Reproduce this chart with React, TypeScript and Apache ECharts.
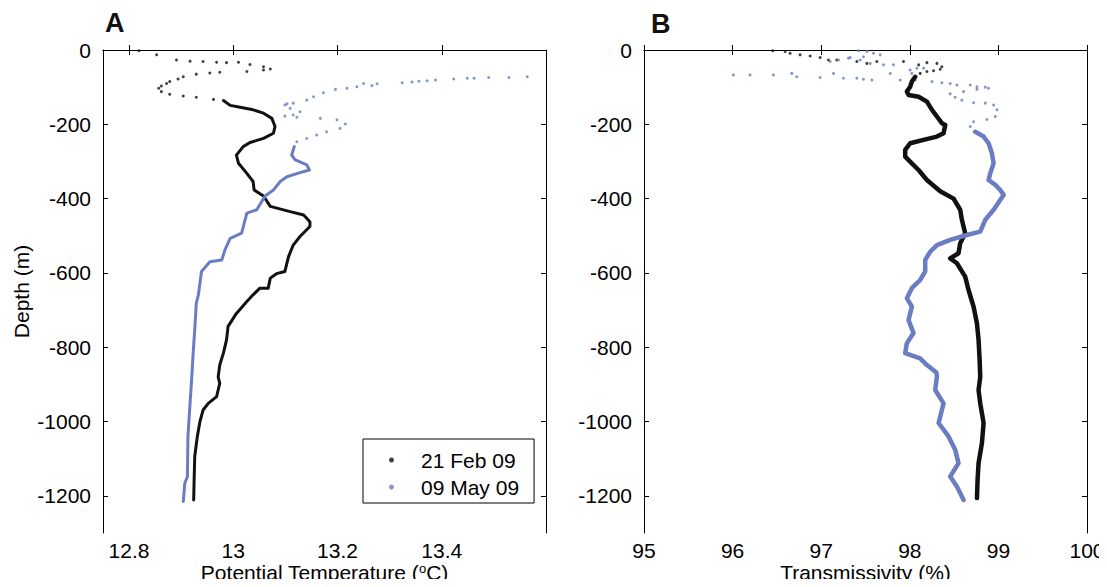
import React, { useEffect, useRef } from "react";
import * as echarts from "echarts";

// ---- tick values ----
const depthTicks = [0, -200, -400, -600, -800, -1000, -1200];
const tempTicks = [12.8, 13, 13.2, 13.4];
const transTicks = [95, 96, 97, 98, 99, 100];

// ---- Panel A: potential temperature [T, depth] ----
const febTempSparse: number[][] = [
  [12.819, -2], [12.853, -13], [12.891, -27], [12.917, -30], [12.942, -31], [12.968, -33],
  [12.987, -34], [13.01, -33], [13.032, -39], [13.058, -45], [13.071, -51], [13.058, -54],
  [13.026, -58], [12.974, -60], [12.955, -62], [12.929, -65], [12.904, -72], [12.894, -78],
  [12.878, -85], [12.872, -90], [12.862, -97], [12.857, -103], [12.862, -112], [12.878, -119],
  [12.904, -124], [12.929, -127], [12.962, -133],
];
const febTempDense: number[][] = [
  [12.981, -136], [12.994, -149], [13.013, -154], [13.038, -161], [13.058, -170], [13.074, -184],
  [13.08, -206], [13.077, -224], [13.058, -238], [13.032, -249], [13.019, -260], [13.006, -283],
  [13.01, -305], [13.026, -332], [13.038, -354], [13.04, -377], [13.058, -393], [13.071, -421],
  [13.109, -435], [13.135, -444], [13.147, -462], [13.147, -475], [13.128, -502], [13.115, -525],
  [13.106, -556], [13.099, -596], [13.083, -602], [13.071, -614], [13.067, -641], [13.051, -641],
  [13.038, -659], [13.026, -677], [13.006, -709], [12.99, -744], [12.987, -780], [12.981, -816],
  [12.974, -848], [12.971, -880], [12.974, -897], [12.968, -933], [12.952, -951], [12.942, -969],
  [12.936, -1000], [12.931, -1040], [12.926, -1094], [12.925, -1148], [12.924, -1211],
];
const mayTempSparse: number[][] = [
  [13.564, -72], [13.529, -74], [13.49, -74], [13.462, -76], [13.449, -76], [13.423, -78],
  [13.388, -81], [13.372, -83], [13.356, -84], [13.343, -86], [13.324, -88], [13.276, -91],
  [13.266, -96], [13.25, -90], [13.237, -99], [13.218, -103], [13.196, -106], [13.173, -115],
  [13.154, -126], [13.141, -135], [13.115, -143], [13.103, -145], [13.099, -148], [13.109, -157],
  [13.128, -166], [13.115, -175], [13.099, -178], [13.122, -181], [13.167, -184], [13.199, -188],
  [13.215, -199], [13.205, -211], [13.179, -220], [13.16, -229], [13.141, -238], [13.122, -247],
];
const mayTempDense: number[][] = [
  [13.117, -260], [13.112, -283], [13.119, -296], [13.141, -309], [13.146, -323], [13.128, -330],
  [13.103, -341], [13.09, -354], [13.077, -377], [13.061, -393], [13.045, -430], [13.026, -439],
  [13.021, -466], [13.016, -493], [12.994, -507], [12.984, -538], [12.978, -565], [12.955, -570],
  [12.939, -596], [12.933, -659], [12.929, -682], [12.926, -753], [12.923, -816], [12.92, -888],
  [12.917, -951], [12.913, -1040], [12.912, -1148], [12.907, -1166], [12.904, -1215],
];

// ---- Panel B: transmissivity [%, depth] ----
const febTransSparse: number[][] = [
  [96.453, -2], [96.593, -4], [96.649, -9], [96.762, -13], [96.875, -16], [96.988, -20],
  [97.082, -27], [97.176, -27], [97.402, -31], [97.515, -36], [97.628, -31], [97.929, -31],
  [98.1, -40], [98.193, -34], [98.306, -36], [98.362, -45], [98.343, -52], [98.268, -56],
  [98.193, -58], [98.117, -63],
];
const febTransDense: number[][] = [
  [98.061, -72], [98.023, -85], [98.004, -99], [97.967, -112], [97.986, -121], [98.099, -126],
  [98.193, -139], [98.25, -161], [98.306, -179], [98.362, -197], [98.4, -202], [98.381, -224],
  [98.306, -233], [98.155, -242], [98.004, -251], [97.948, -269], [97.948, -287], [98.023, -305],
  [98.099, -323], [98.193, -350], [98.343, -380], [98.494, -400], [98.569, -430], [98.588, -457],
  [98.625, -493], [98.569, -520], [98.55, -547], [98.456, -561], [98.532, -574], [98.625, -610],
  [98.663, -646], [98.72, -691], [98.758, -736], [98.776, -780], [98.788, -834], [98.795, -880],
  [98.776, -915], [98.795, -951], [98.833, -1004], [98.814, -1058], [98.776, -1112],
  [98.765, -1157], [98.758, -1206],
];
const mayTransSparse: number[][] = [
  [97.421, -2], [97.515, -4], [97.59, -9], [97.666, -13], [97.477, -18], [97.327, -20],
  [97.195, -27], [97.101, -31], [97.308, -22], [97.44, -27], [97.553, -36], [97.703, -40],
  [97.816, -40], [98.004, -54], [98.08, -49], [98.155, -49], [98.023, -63], [96.009, -67],
  [96.197, -67], [96.461, -67], [96.668, -63], [96.724, -72], [96.988, -74], [97.139, -63],
  [97.251, -76], [97.402, -76], [97.477, -79], [97.572, -81], [97.779, -63], [97.892, -81],
  [98.061, -81], [98.25, -85], [98.362, -88], [98.456, -90], [98.532, -94], [98.682, -94],
  [98.758, -99], [98.852, -100], [98.889, -103], [98.758, -106], [98.607, -112], [98.456, -118],
  [98.512, -127], [98.588, -135], [98.72, -142], [98.852, -143], [98.946, -148], [98.984, -161],
  [98.965, -179], [98.87, -187], [98.72, -193], [98.682, -206], [98.739, -220],
];
const mayTransDense: number[][] = [
  [98.739, -220], [98.833, -233], [98.889, -251], [98.927, -278], [98.946, -305], [98.908, -332],
  [98.889, -350], [98.965, -363], [99.021, -377], [99.059, -390], [98.946, -430], [98.852, -457],
  [98.795, -489], [98.645, -498], [98.456, -511], [98.306, -525], [98.23, -543], [98.174, -565],
  [98.174, -596], [98.117, -619], [98.023, -641], [97.967, -668], [98.023, -691], [97.986, -727],
  [98.042, -762], [97.967, -789], [97.948, -816], [98.117, -830], [98.193, -848], [98.3, -868],
  [98.306, -879], [98.287, -915], [98.381, -951], [98.325, -1004], [98.437, -1040],
  [98.512, -1076], [98.55, -1112], [98.456, -1148], [98.532, -1175], [98.607, -1211],
];

const seriesNames = ["21 Feb 09", "09 May 09"];
const BLACK = "#111111";
const BLUE = "#6a7cc4";
const FONT = "Liberation Sans, Arial, Helvetica, sans-serif";
const FS = 21;

export default function App() {
  const ref = useRef<HTMLDivElement>(null);
  useEffect(() => {
    if (!ref.current) return;
    const chart = echarts.init(ref.current, undefined, { renderer: "svg" });

    const lineAxis = { show: true, lineStyle: { color: "#000", width: 1 } };
    const label = (vals: number[], margin: number) => ({
      show: true,
      customValues: vals,
      color: "#000",
      fontSize: FS,
      lineHeight: 19,
      fontFamily: FONT,
      margin,
      formatter: (v: number) => String(v),
    });
    const tick = (vals: number[]) => ({
      show: true,
      inside: true,
      length: 5,
      customValues: vals,
      lineStyle: { color: "#000", width: 1 },
    });

    const xAxisMain = (grid: number, min: number, max: number, ticks: number[], name: string, rich?: any) => ({
      type: "value",
      gridIndex: grid,
      min,
      max,
      position: "bottom",
      axisLine: lineAxis,
      axisTick: tick(ticks),
      axisLabel: label(ticks, 8),
      splitLine: { show: false },
      name,
      nameLocation: "middle",
      nameGap: 29,
      nameMoveOverlap: false,
      nameTextStyle: { color: "#000", fontSize: FS, lineHeight: 21, fontFamily: FONT, rich },
    });
    const xAxisTop = (grid: number, min: number, max: number, ticks: number[]) => ({
      type: "value",
      gridIndex: grid,
      min,
      max,
      position: "top",
      axisLine: lineAxis,
      axisTick: tick(ticks),
      axisLabel: { show: false },
      splitLine: { show: false },
    });
    const yAxisMain = (grid: number, name: string) => ({
      type: "value",
      gridIndex: grid,
      min: -1300,
      max: 0,
      position: "left",
      axisLine: lineAxis,
      axisTick: tick(depthTicks),
      axisLabel: label(depthTicks, 12),
      splitLine: { show: false },
      name,
      nameLocation: "middle",
      nameGap: 71,
      nameMoveOverlap: false,
      nameTextStyle: { color: "#000", fontSize: FS, fontFamily: FONT },
    });
    const yAxisRight = (grid: number) => ({
      type: "value",
      gridIndex: grid,
      min: -1300,
      max: 0,
      position: "right",
      axisLine: lineAxis,
      axisTick: tick(depthTicks),
      axisLabel: { show: false },
      splitLine: { show: false },
    });

    const scatter = (name: string, data: number[][], color: string, xi: number, yi: number) => ({
      type: "scatter",
      name,
      data,
      xAxisIndex: xi,
      yAxisIndex: yi,
      symbol: "circle",
      symbolSize: 3,
      itemStyle: { color },
      silent: true,
    });
    const line = (name: string, data: number[][], color: string, xi: number, yi: number, width: number) => ({
      type: "line",
      name,
      data,
      xAxisIndex: xi,
      yAxisIndex: yi,
      showSymbol: false,
      symbol: "circle",
      itemStyle: { color },
      lineStyle: { color, width, join: "round", cap: "round" },
      silent: true,
    });

    const tempRich = {
      n: { fontSize: FS, lineHeight: 21, fontFamily: FONT, color: "#000" },
      s: { fontSize: 13, lineHeight: 13, fontFamily: FONT, color: "#000", padding: [0, 0, 8, 0] },
    };

    chart.setOption({
      animation: false,
      backgroundColor: "#fff",
      grid: [
        { left: 103, top: 50, width: 443, height: 483, containLabel: false, outerBoundsMode: "none" },
        { left: 644, top: 50, width: 443, height: 483, containLabel: false, outerBoundsMode: "none" },
      ],
      xAxis: [
        xAxisMain(0, 12.75, 13.6, tempTicks, "{n|Potential Temperature (}{s|o}{n|C)}", tempRich),
        xAxisMain(1, 95, 100, transTicks, "Transmissivity (%)"),
        xAxisTop(0, 12.75, 13.6, tempTicks),
        xAxisTop(1, 95, 100, transTicks),
      ],
      yAxis: [yAxisMain(0, "Depth (m)"), yAxisMain(1, ""), yAxisRight(0), yAxisRight(1)],
      legend: {
        data: seriesNames,
        orient: "vertical",
        left: 363,
        top: 439,
        icon: "circle",
        itemWidth: 5,
        itemHeight: 5,
        itemGap: 3,
        padding: [9, 15, 4, 26],
        borderColor: "#000",
        borderWidth: 1,
        backgroundColor: "#fff",
        textStyle: { color: "#000", fontSize: FS, fontFamily: FONT, lineHeight: 24, padding: [0, 0, 0, 22] },
        selectedMode: false,
      },
      graphic: [
        { type: "text", x: 105, y: 23, style: { text: "A", fontSize: 27, fontWeight: "bold", fontFamily: FONT, fill: "#111", verticalAlign: "middle" } },
        { type: "text", x: 651, y: 24, style: { text: "B", fontSize: 27, fontWeight: "bold", fontFamily: FONT, fill: "#111", verticalAlign: "middle" } },
      ],
      series: [
        scatter(seriesNames[0], febTempSparse, BLACK, 0, 0),
        line(seriesNames[0], febTempDense, BLACK, 0, 0, 3),
        scatter(seriesNames[1], mayTempSparse, BLUE, 0, 0),
        line(seriesNames[1], mayTempDense, BLUE, 0, 0, 3),
        scatter(seriesNames[0], febTransSparse, BLACK, 1, 1),
        line(seriesNames[0], febTransDense, BLACK, 1, 1, 4.5),
        scatter(seriesNames[1], mayTransSparse, BLUE, 1, 1),
        line(seriesNames[1], mayTransDense, BLUE, 1, 1, 4.5),
      ],
    });
    return () => chart.dispose();
  }, []);
  return <div ref={ref} style={{ width: 1107, height: 587, margin: -8 }} />;
}
